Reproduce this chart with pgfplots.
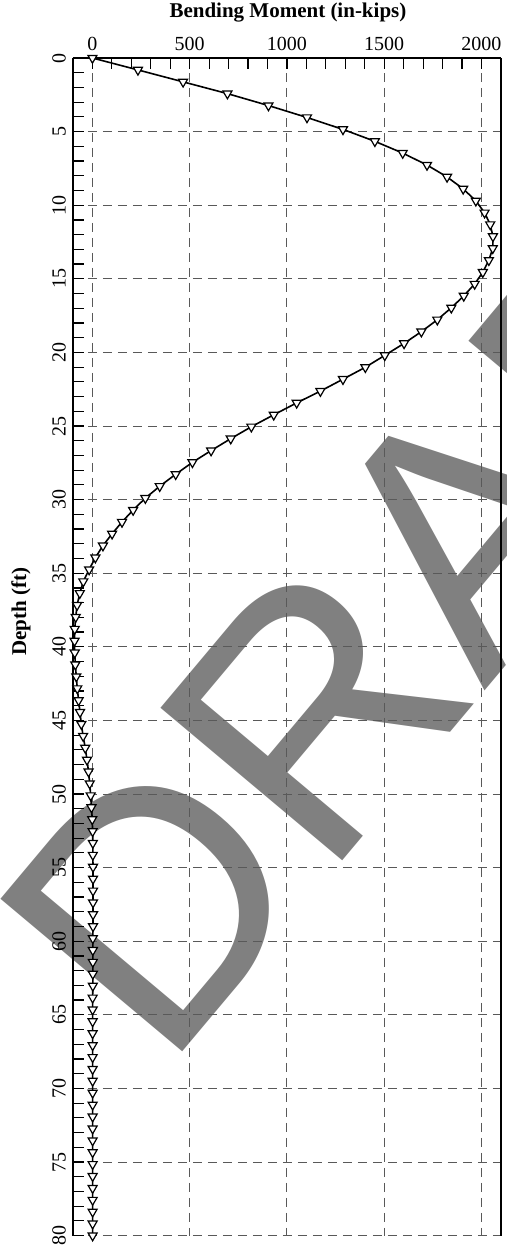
\documentclass[border=0pt]{standalone}
\usepackage{fontspec}
\setmainfont{Liberation Serif}
\newfontfamily\wmfont{Liberation Sans}
\usepackage{pgfplots}
\usepackage{pgfplotstable}
\pgfplotsset{compat=1.18}
\pgfplotstableread{
d M
0.00 0
0.81 234
1.62 466
2.42 694
3.23 905
4.04 1103
4.85 1288
5.66 1452
6.46 1595
7.27 1720
8.08 1823
8.89 1906
9.70 1971
10.51 2016
11.31 2045
12.12 2059
12.93 2058
13.74 2038
14.55 2007
15.35 1965
16.16 1909
16.97 1845
17.78 1773
18.59 1691
19.39 1602
20.20 1503
21.01 1403
21.82 1288
22.63 1172
23.43 1050
24.24 932
25.05 817
25.86 711
26.67 610
27.47 514
28.28 428
29.09 346
29.90 272
30.71 209
31.52 152
32.32 101
33.13 54
33.94 15
34.75 -17
35.56 -47
36.36 -65
37.17 -79
37.98 -86
38.79 -91
39.60 -92
40.40 -91
41.21 -88
42.02 -83
42.83 -78
43.64 -71
44.44 -64
45.25 -57
46.06 -48
46.87 -37
47.68 -28
48.48 -20
49.29 -14
50.10 -9
50.91 -5
51.72 -1
52.53 1
53.33 2
54.14 2
54.95 3
55.76 3
56.57 3
57.37 3
58.18 3
58.99 3
59.80 2
60.61 2
61.41 2
62.22 2
63.03 2
63.84 1
64.65 1
65.45 1
66.26 1
67.07 1
67.88 1
68.69 1
69.49 1
70.30 1
71.11 1
71.92 1
72.73 1
73.54 1
74.34 1
75.15 1
75.96 1
76.77 1
77.58 1
78.38 1
79.19 1
80.00 1
}\momenttable
\begin{document}
\begin{tikzpicture}
\useasboundingbox (-36.5pt,-10.7pt) rectangle (217pt,617.9pt);
\node[rotate=50, text=gray, inner sep=0pt, font=\wmfont\fontsize{172.5}{172.5}\selectfont] at (185.1pt,339.6pt) {DRAFT};
\begin{axis}[
  at={(0pt,0pt)}, anchor=south west,
  scale only axis, width=214pt, height=588.9pt,
  xmin=-100, xmax=2100, ymin=0, ymax=80,
  y dir=reverse,
  axis x line*=top, axis y line*=left,
  axis line style={line width=0.75pt, black, -},
  xtick={0,500,...,2000}, ytick={0,5,...,80},
  minor x tick num=4, minor y tick num=4,
  tick align=inside,
  major tick length=5.5pt, minor tick length=5.5pt,
  every tick/.style={black, line width=0.6pt},
  grid=major,
  major grid style={black!65, line width=0.5pt, dash pattern=on 4.5pt off 3pt},
  yticklabel style={rotate=90, anchor=south},
  ticklabel style={font=\fontsize{10}{12}\selectfont},
  /pgf/number format/assume math mode=true,
  /pgf/number format/1000 sep={},
]
\addplot[black, line width=0.8pt, mark=triangle*, mark size=2.6pt,
  mark options={rotate=180, fill=white, draw=black, line width=0.6pt, solid}]
  table[x=M, y=d] {\momenttable};
\end{axis}
\draw[line width=0.75pt] (214pt,0pt) -- (214pt,588.9pt);
\node[font=\fontsize{10.5}{12}\selectfont\bfseries] at (107.5pt,611.4pt) {Bending Moment (in-kips)};
\node[rotate=90, font=\fontsize{10.5}{12}\selectfont\bfseries] at (-26pt,311.9pt) {Depth (ft)};
\end{tikzpicture}
\end{document}
